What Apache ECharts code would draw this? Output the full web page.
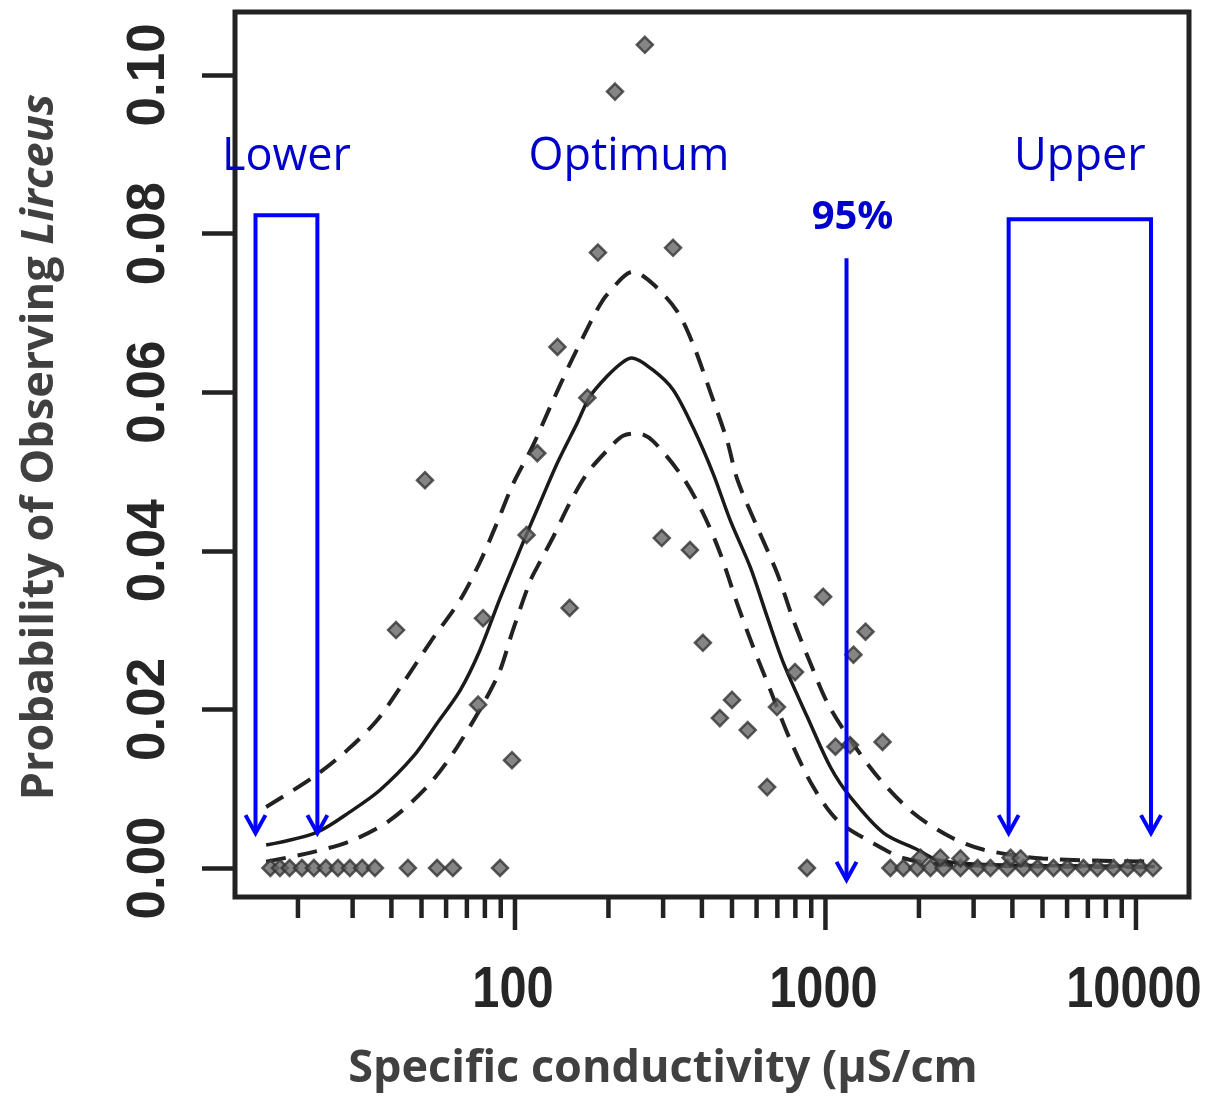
<!DOCTYPE html>
<html><head><meta charset="utf-8">
<script src="https://cdn.jsdelivr.net/npm/echarts@6/dist/echarts.min.js"></script>
<style>html,body{margin:0;padding:0;background:#fff}#c{width:1212px;height:1099px}</style>
</head><body><div id="c"></div>
<script>
// ---- tick labels ----
const xMajorTicks = [100, 1000, 10000];
const xMinorTicks = [20,30,40,50,60,70,80,90,200,300,400,500,600,700,800,900,2000,3000,4000,5000,6000,7000,8000,9000];
const yTicks = [0, 0.02, 0.04, 0.06, 0.08, 0.10];

// ---- fitted probability curve ----
const fitX = [15.8,23,30,36.7,46.9,56,66.6,77,89.5,101,109,120,137,158.6,174,198,221,238,278,323,375,435,494,573,650,733,875,1038,1205,1540,1980,2296,3000,5000,11500];
const fitY = [0.0029,0.0045,0.0073,0.0098,0.0140,0.0182,0.0224,0.0274,0.0340,0.0390,0.0421,0.0459,0.0511,0.0561,0.0594,0.0620,0.0637,0.0643,0.0628,0.0603,0.0555,0.0497,0.0438,0.0379,0.0316,0.0258,0.0190,0.0127,0.0089,0.0044,0.0023,0.0010,0.0005,0.0003,0.0002];

// ---- upper confidence bound ----
const upperX = [15.8,22.3,28.7,35.9,43.6,53.2,66.6,77,87.5,98.5,114,130,150,166,184,198,240,279,333,375,426,483,520,604,700,789,895,1015,1205,1503,1923,2529,3236,5000,11500];
const upperY = [0.0077,0.0114,0.0148,0.0186,0.0233,0.0284,0.0338,0.0385,0.0435,0.0484,0.0532,0.0582,0.0635,0.0670,0.0704,0.0723,0.0752,0.0736,0.0702,0.0660,0.0600,0.0538,0.0490,0.0429,0.0371,0.0312,0.0258,0.0208,0.0161,0.0111,0.0069,0.0039,0.0023,0.0012,0.0008];

// ---- lower confidence bound ----
const lowerX = [15.8,22.3,30,39.5,52,65,87.5,98.5,112,120,133,150,171,202,223,250,279,348,404,459,520,586,665,771,914,1094,1429,1800,2500,11500];
const lowerY = [0.0008,0.0020,0.0035,0.0060,0.0102,0.0152,0.0240,0.0300,0.0362,0.0385,0.0418,0.0460,0.0498,0.0530,0.0545,0.0548,0.0538,0.0492,0.0447,0.0396,0.0333,0.0278,0.0224,0.0161,0.0102,0.0060,0.0031,0.0012,0.0004,0.0001];

// ---- observed proportions ----
const obsX = [262,210,185,323,137,171,118,51.3,297,366,109,150,41.4,78.9,76.1,97.8,403,983,1346,1231,798,500,457,698,562,1527,1077,1200,649,872,
  16.3,17.5,18.8,20.6,22.5,24.6,26.9,29.4,32.2,35.4,45.2,56.1,63.1,89.5,
  1618,1782,1977,2178,2399,2721,3090,3398,3854,4343,4819,5424,6013,6772,7514,8467,9395,10330,11350,
  2023,2344,2721,3945,4250];
const obsY = [0.1038,0.0979,0.0776,0.0782,0.0657,0.0593,0.0523,0.0489,0.0416,0.0401,0.0420,0.0328,0.0300,0.0315,0.0206,0.0136,0.0284,0.0342,0.0298,0.0269,0.0247,0.0212,0.0189,0.0203,0.0174,0.0159,0.0153,0.0155,0.0102,0,
  0,0,0,0,0,0,0,0,0,0,0,0,0,0,
  0,0,0,0,0,0,0,0,0,0,0,0,0,0,0,0,0,0,0,
  0.0013,0.0013,0.0012,0.0013,0.0012];

// ---- annotations ----
const bracketNames = ['Lower', 'Upper'];
const bracketFrom = [14.6, 3890];
const bracketTo = [23.1, 11180];
const bracketTop = [0.0823, 0.0818];
const bracketTip = [0.0044, 0.0044];
const headlineY = 0.0896;
const optimumName = 'Optimum';
const optimumX = 233;
const pctName = '95%';
const pctX = 1169;
const pctTop = 0.0769;
const pctTip = -0.0015;
const pctLabelY = 0.0820;

const xMin = 12.54, xMax = 14820, yMin = -0.003657, yMax = 0.10794;
const BLUE = '#0000FF', BLUE_TXT = '#0000CC', INK = '#222';

function chevron(tx, ty) {
  return {type: 'polyline', shape: {points: [[tx - 10, ty - 18], [tx, ty], [tx + 10, ty - 18]]},
    style: {stroke: BLUE, lineWidth: 4, fill: null}};
}

const chart = echarts.init(document.getElementById('c'), null, {renderer: 'canvas'});
chart.setOption({
  animation: false,
  backgroundColor: '#fff',
  grid: {left: 235, top: 12, right: 23, bottom: 202, show: true, borderColor: INK, borderWidth: 5, containLabel: false},
  xAxis: {type: 'log', logBase: 10, min: xMin, max: xMax,
    axisLine: {show: false}, axisTick: {show: false}, axisLabel: {show: false}, splitLine: {show: false}},
  yAxis: {type: 'value', min: yMin, max: yMax,
    axisLine: {show: false}, splitLine: {show: false},
    axisTick: {show: true, customValues: yTicks, length: 33, lineStyle: {width: 4.5, color: INK}},
    axisLabel: {customValues: yTicks, rotate: 90, margin: 59, color: '#262626',
      fontFamily: 'Liberation Sans', fontWeight: 'bold', fontSize: 53,
      formatter: v => Number(v).toFixed(2)}},
  graphic: [
    {type: 'text', x: 663, y: 1069, silent: true,
      style: {text: 'Specific conductivity (µS/cm', fontFamily: 'Open Sans', fontWeight: 'bold', fontSize: 45,
        fill: '#404040', align: 'center', verticalAlign: 'middle'}},
    {type: 'text', x: 40, y: 447, rotation: Math.PI / 2, silent: true,
      style: {text: '{a|Probability of Observing }{b|Lirceus}', align: 'center', verticalAlign: 'middle',
        rich: {
          a: {fontFamily: 'Open Sans', fontWeight: 'bold', fontSize: 45, fill: '#404040'},
          b: {fontFamily: 'Open Sans', fontWeight: 'bold', fontStyle: 'italic', fontSize: 45, fill: '#404040'}
        }}}
  ],
  series: [
    {type: 'line', name: 'upper', data: upperX.map((x, i) => [x, upperY[i]]), showSymbol: false, smooth: 0.3,
      lineStyle: {color: INK, width: 4, type: [20, 12]}, z: 2},
    {type: 'line', name: 'lower', data: lowerX.map((x, i) => [x, lowerY[i]]), showSymbol: false, smooth: 0.3,
      lineStyle: {color: INK, width: 4, type: [20, 12]}, z: 2},
    {type: 'line', name: 'fit', data: fitX.map((x, i) => [x, fitY[i]]), showSymbol: false, smooth: 0.3,
      lineStyle: {color: '#1a1a1a', width: 3.5}, z: 2},
    {type: 'scatter', name: 'observed', data: obsX.map((x, i) => [x, obsY[i]]), symbol: 'diamond', symbolSize: 16,
      itemStyle: {color: '#666', borderColor: '#333', borderWidth: 2.5}, z: 3},
    // x-axis ticks and labels
    {type: 'custom', name: 'xticks', silent: true, clip: false, z: 4,
      data: xMajorTicks.map(v => [v, 0, 1]).concat(xMinorTicks.map(v => [v, 0, 0])),
      renderItem(params, api) {
        const v = api.value(0), major = api.value(2) === 1;
        const px = api.coord([v, yMin])[0];
        const yb = params.coordSys.y + params.coordSys.height;
        const children = [{type: 'line', shape: {x1: px, y1: yb, x2: px, y2: yb + (major ? 33 : 21)},
          style: {stroke: INK, lineWidth: 4.5}}];
        if (major) children.push({type: 'text', x: px - 2, y: yb + 94, scaleX: 0.84,
          style: {text: String(v), fontFamily: 'Liberation Sans', fontWeight: 'bold', fontSize: 58,
            fill: '#262626', align: 'center', verticalAlign: 'middle'}});
        return {type: 'group', children};
      }},
    // annotations: brackets
    {type: 'custom', name: 'brackets', silent: true, clip: false, z: 5,
      data: bracketNames.map((n, i) => [bracketFrom[i], bracketTop[i], bracketTo[i], bracketTip[i], i]),
      renderItem(params, api) {
        const i = api.value(4);
        const a = api.coord([api.value(0), api.value(3)]);
        const b = api.coord([api.value(0), api.value(1)]);
        const c = api.coord([api.value(2), api.value(1)]);
        const d = api.coord([api.value(2), api.value(3)]);
        const ty = api.coord([api.value(0), headlineY])[1];
        return {type: 'group', children: [
          {type: 'polyline', shape: {points: [a, b, c, d]}, style: {stroke: BLUE, lineWidth: 4, fill: null}},
          chevron(a[0], a[1]), chevron(d[0], d[1]),
          {type: 'text', x: (b[0] + c[0]) / 2, y: ty, style: {text: bracketNames[i], fontFamily: 'Open Sans', fontSize: 45,
            fill: BLUE_TXT, align: 'center', verticalAlign: 'middle'}}
        ]};
      }},
    // annotation: 95% arrow
    {type: 'custom', name: 'pct', silent: true, clip: false, z: 5,
      data: [[pctX, pctTop, pctTip, pctLabelY]],
      renderItem(params, api) {
        const t = api.coord([api.value(0), api.value(1)]);
        const e = api.coord([api.value(0), api.value(2)]);
        const l = api.coord([api.value(0), api.value(3)]);
        return {type: 'group', children: [
          {type: 'line', shape: {x1: t[0], y1: t[1], x2: e[0], y2: e[1]}, style: {stroke: BLUE, lineWidth: 4}},
          chevron(e[0], e[1]),
          {type: 'text', x: l[0] + 6, y: l[1], style: {text: pctName, fontFamily: 'Open Sans', fontWeight: 'bold', fontSize: 40,
            fill: BLUE_TXT, align: 'center', verticalAlign: 'middle'}}
        ]};
      }},
    // annotation: optimum headline
    {type: 'custom', name: 'optimum', silent: true, clip: false, z: 5,
      data: [[optimumX, headlineY]],
      renderItem(params, api) {
        const p = api.coord([api.value(0), api.value(1)]);
        return {type: 'text', x: p[0], y: p[1], style: {text: optimumName, fontFamily: 'Open Sans', fontSize: 45,
          fill: BLUE_TXT, align: 'center', verticalAlign: 'middle'}};
      }}
  ]
});
</script></body></html>
